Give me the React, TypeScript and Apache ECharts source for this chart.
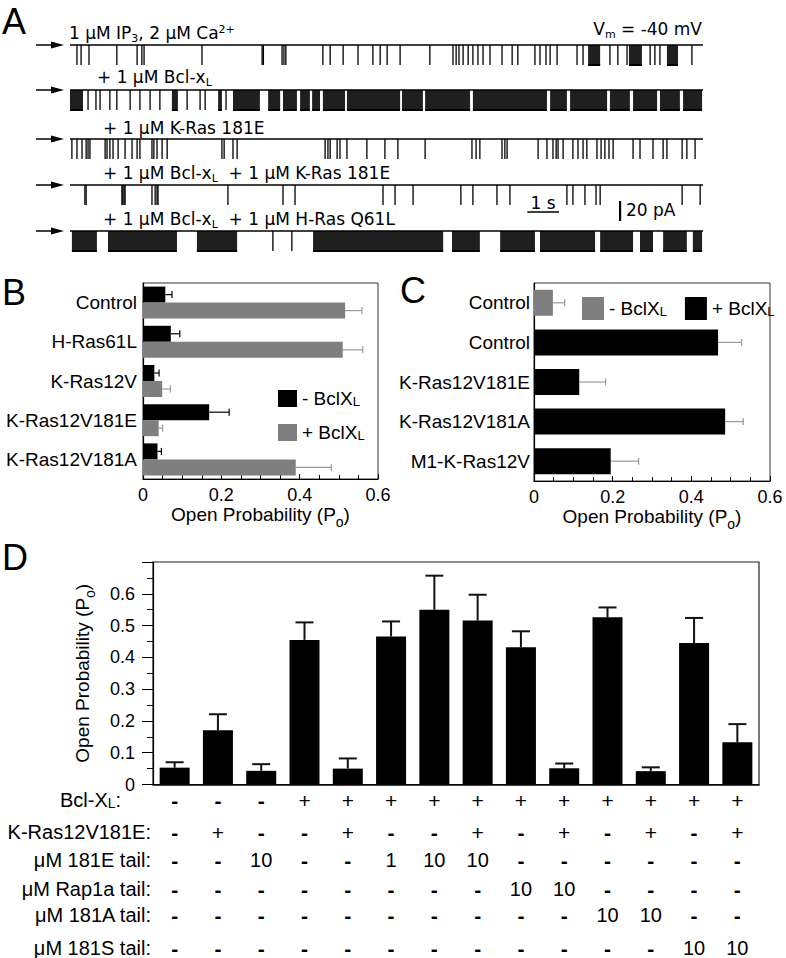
import React, { useEffect, useRef } from 'react';
import * as echarts from 'echarts';

// ---------------- Panel A: single-channel records (time in s) ----------------
// brief openings (s) and sustained bursts [start, end] (s), per record
const TRACE1_SPIKES = [0.22, 0.35, 0.6, 1.48, 2.12, 2.27, 2.34, 4.17, 6.07, 6.11, 6.7, 6.76, 6.82, 7.99, 8.22, 8.63, 9.1, 9.57, 9.8, 10.02, 10.43, 11.37, 12.1, 12.2, 12.29, 12.42, 12.58, 12.73, 12.89, 13.05, 13.27, 13.65, 13.97, 14.15, 14.69, 14.85, 15.04, 15.17, 15.39, 16.02, 16.21, 17.06, 17.31, 17.6, 18.33, 18.48, 18.64, 19.65];
const TRACE1_BURSTS = [[16.37, 16.75], [17.66, 18.07], [18.86, 19.21]];

const TRACE2_SPIKES = [0.57, 0.82, 0.95, 1.26, 1.48, 1.9, 2.21, 2.53, 2.84, 3.7, 4.11, 4.27, 4.93];
const TRACE2_BURSTS = [[0, 0.41], [3.22, 3.41], [4.68, 4.8], [5.15, 6.0], [6.26, 6.64], [6.73, 7.17], [7.27, 7.58], [7.65, 7.9], [7.99, 8.69], [8.75, 10.43], [10.49, 11.15], [11.22, 12.64], [12.73, 15.07], [15.17, 15.7], [15.8, 16.97], [17.06, 17.69], [17.79, 18.55], [18.64, 19.27], [19.37, 19.97]];

const TRACE3_SPIKES = [0.06, 0.22, 0.38, 0.51, 0.57, 0.63, 1.11, 1.17, 1.26, 1.36, 1.52, 1.74, 1.96, 2.12, 2.21, 2.59, 2.65, 2.75, 2.91, 3.07, 4.8, 4.87, 5.15, 5.28, 8.06, 8.15, 8.22, 8.44, 8.53, 8.75, 9.38, 9.95, 10.36, 11.22, 12.7, 12.83, 12.95, 13.65, 13.74, 13.81, 14.79, 15.07, 15.26, 15.36, 15.42, 15.58, 15.89, 16.05, 16.21, 16.33, 16.65, 16.78, 16.9, 17.03, 17.16, 17.79, 18.01, 18.42, 18.74, 18.86, 19.34, 19.49, 19.75];
const TRACE3_BURSTS: number[][] = [];

const TRACE4_SPIKES = [0.47, 0.51, 1.64, 1.67, 1.71, 1.74, 2.59, 2.69, 2.75, 2.78, 4.99, 6.73, 7.11, 9.89, 10.27, 10.84, 12.35, 12.73, 13.49, 13.9, 15.7, 15.89, 16.27, 16.62, 16.75, 19.34, 19.91];
const TRACE4_BURSTS: number[][] = [];

const TRACE5_SPIKES = [6.41, 7.01];
const TRACE5_BURSTS = [[0.06, 0.85], [1.2, 3.38], [4.01, 5.28], [7.68, 11.79], [12.07, 12.95], [13.59, 14.69], [14.85, 16.59], [16.75, 17.79], [18.01, 18.42], [18.74, 19.49], [19.68, 19.97]];

const TRACES = [
  { spikes: TRACE1_SPIKES, bursts: TRACE1_BURSTS },
  { spikes: TRACE2_SPIKES, bursts: TRACE2_BURSTS },
  { spikes: TRACE3_SPIKES, bursts: TRACE3_BURSTS },
  { spikes: TRACE4_SPIKES, bursts: TRACE4_BURSTS },
  { spikes: TRACE5_SPIKES, bursts: TRACE5_BURSTS },
];
const UNITARY_CURRENT = 20; // pA
const SCALE_TIME = 1; // s
const SCALE_CURRENT = 20; // pA

// ---------------- Panel B ----------------
const B_CATEGORIES = ['Control', 'H-Ras61L', 'K-Ras12V', 'K-Ras12V181E', 'K-Ras12V181A'];
const B_MINUS = [0.057, 0.071, 0.029, 0.169, 0.037];
const B_MINUS_ERR = [0.017, 0.023, 0.012, 0.051, 0.01];
const B_PLUS = [0.516, 0.51, 0.049, 0.04, 0.39];
const B_PLUS_ERR = [0.043, 0.051, 0.021, 0.01, 0.091];

// ---------------- Panel C ----------------
const C_CATEGORIES = ['Control', 'Control', 'K-Ras12V181E', 'K-Ras12V181A', 'M1-K-Ras12V'];
const C_BCL = ['-', '+', '+', '+', '+'];
const C_VALUES = [0.048, 0.468, 0.115, 0.486, 0.195];
const C_ERR = [0.03, 0.06, 0.067, 0.046, 0.071];

// ---------------- Panel D ----------------
const D_VALUES = [0.053, 0.171, 0.043, 0.455, 0.05, 0.466, 0.55, 0.516, 0.432, 0.051, 0.526, 0.042, 0.445, 0.133];
const D_ERR = [0.017, 0.05, 0.021, 0.055, 0.032, 0.047, 0.107, 0.081, 0.05, 0.015, 0.031, 0.012, 0.079, 0.057];
const D_ROW_LABELS = ['{a|Bcl-X}{s|L}{a|:}', 'K-Ras12V181E:', 'μM 181E tail:', 'μM Rap1a tail:', 'μM 181A tail:', 'μM 181S tail:'];
const D_BCL = ['-', '-', '-', '+', '+', '+', '+', '+', '+', '+', '+', '+', '+', '+'];
const D_KRAS = ['-', '+', '-', '-', '+', '-', '-', '+', '-', '+', '-', '+', '-', '+'];
const D_181E = ['-', '-', '10', '-', '-', '1', '10', '10', '-', '-', '-', '-', '-', '-'];
const D_RAP1A = ['-', '-', '-', '-', '-', '-', '-', '-', '10', '10', '-', '-', '-', '-'];
const D_181A = ['-', '-', '-', '-', '-', '-', '-', '-', '-', '-', '10', '10', '-', '-'];
const D_181S = ['-', '-', '-', '-', '-', '-', '-', '-', '-', '-', '-', '-', '10', '10'];
const D_ROWS = [D_BCL, D_KRAS, D_181E, D_RAP1A, D_181A, D_181S];

// ---------------- layout / style ----------------
const FONT = '"Liberation Sans", Arial, Helvetica, sans-serif';
const AFONT = '"DejaVu Sans", Verdana, sans-serif';
const GRAY = '#7f7f7f';
const TRACE_OFFSETS = [-25, -70, -119, -165, -211];
const ROW_OFFSETS = [15.5, 47.5, 75.5, 104.5, 130.5, 163.5];

const PO_NAME = '{a|Open Probability (P}{s|o}{a|)}';
const PO_RICH = {
  a: { fontSize: 19, fontFamily: FONT, color: '#000', lineHeight: 24, verticalAlign: 'top' },
  s: { fontSize: 14, fontFamily: FONT, color: '#000', lineHeight: 10, verticalAlign: 'bottom' },
};
const BCL_RICH = {
  a: { fontSize: 19, fontFamily: FONT, color: '#000', lineHeight: 20 },
  s: { fontSize: 13, fontFamily: FONT, color: '#000', lineHeight: 13, verticalAlign: 'bottom' },
};
const A_RICH = {
  n: { fontSize: 17, fontFamily: AFONT, fill: '#000', lineHeight: 20, verticalAlign: 'top' },
  sub: { fontSize: 11, fontFamily: AFONT, fill: '#000', lineHeight: 8, verticalAlign: 'bottom' },
  sup: { fontSize: 11, fontFamily: AFONT, fill: '#000', lineHeight: 8, verticalAlign: 'top' },
};

function traceRenderer(off: number) {
  return (params: any, api: any) => {
    const t0 = api.value(0);
    const t1 = api.value(1);
    const a = api.coord([t0, off]);
    const b = api.coord([t1, off - UNITARY_CURRENT]);
    if (t1 <= t0) {
      return {
        type: 'line',
        shape: { x1: a[0], y1: a[1], x2: a[0], y2: b[1] },
        style: { stroke: '#000', lineWidth: 1.3 },
      };
    }
    return {
      type: 'group',
      children: [
        { type: 'rect', shape: { x: a[0], y: a[1], width: b[0] - a[0], height: b[1] - a[1] }, style: { fill: 'rgba(0,0,0,0.88)' } },
        { type: 'line', shape: { x1: a[0], y1: b[1], x2: b[0], y2: b[1] }, style: { stroke: '#000', lineWidth: 2 } },
      ],
    };
  };
}

function hErrRenderer(dy: number, color: string, cap: number) {
  return (params: any, api: any) => {
    const cat = api.value(0);
    const v = api.value(1);
    const e = api.value(2);
    if (isNaN(v)) return null;
    const a = api.coord([v, cat]);
    const b = api.coord([v + e, cat]);
    const y = a[1] + dy;
    return {
      type: 'group',
      children: [
        { type: 'line', shape: { x1: a[0], y1: y, x2: b[0], y2: y }, style: { stroke: color, lineWidth: 1.2 } },
        { type: 'line', shape: { x1: b[0], y1: y - cap, x2: b[0], y2: y + cap }, style: { stroke: color, lineWidth: 1.2 } },
      ],
    };
  };
}

function vErrRenderer(params: any, api: any) {
  const i = api.value(0);
  const v = api.value(1);
  const e = api.value(2);
  const a = api.coord([i, v]);
  const b = api.coord([i, v + e]);
  return {
    type: 'group',
    children: [
      { type: 'line', shape: { x1: a[0], y1: a[1], x2: b[0], y2: b[1] }, style: { stroke: '#111', lineWidth: 2 } },
      { type: 'line', shape: { x1: b[0] - 9, y1: b[1], x2: b[0] + 9, y2: b[1] }, style: { stroke: '#111', lineWidth: 2 } },
    ],
  };
}

const bcLabelFmt = (v: number) => (v === 0 ? '0' : v.toFixed(1));

function valueAxisBC(gi: number) {
  return {
    gridIndex: gi,
    type: 'value',
    min: 0,
    max: 0.6,
    interval: 0.2,
    splitLine: { show: false },
    axisLine: { show: true, lineStyle: { color: '#000', width: 1.2 } },
    axisTick: { show: true, inside: true, length: 5, lineStyle: { color: '#000' } },
    minorTick: { show: true, splitNumber: 4, length: 4, lineStyle: { color: '#000' } },
    axisLabel: { fontSize: 18, color: '#000', fontFamily: FONT, margin: 7, formatter: bcLabelFmt },
    name: PO_NAME,
    nameLocation: 'middle',
    nameGap: 20,
    nameTextStyle: { rich: PO_RICH },
  };
}

function catAxisBC(gi: number, data: string[], margin: number) {
  return {
    gridIndex: gi,
    type: 'category',
    data,
    inverse: true,
    axisTick: { show: false },
    axisLine: { show: true, lineStyle: { color: '#000', width: 1.2 } },
    axisLabel: { fontSize: 19, color: '#000', fontFamily: FONT, margin, interval: 0 },
  };
}

function aText(x: number, y: number, text: string, align = 'left') {
  return {
    type: 'text',
    x,
    y,
    style: { text, rich: A_RICH, fill: '#000', font: `17px ${AFONT}`, align, verticalAlign: 'middle', textAlign: align, textVerticalAlign: 'middle' },
  };
}

function letter(x: number, y: number, t: string) {
  return {
    type: 'text',
    x,
    y,
    style: { text: t, fill: '#000', fontSize: 36, fontFamily: FONT, verticalAlign: 'middle', textVerticalAlign: 'middle' },
  };
}

function buildOption() {
  const series: any[] = [];
  TRACES.forEach((tr, i) => {
    const off = TRACE_OFFSETS[i];
    series.push({
      type: 'line',
      xAxisIndex: 0,
      yAxisIndex: 0,
      data: [[0, off], [20, off]],
      symbol: 'none',
      silent: true,
      lineStyle: { color: '#000', width: 1.6 },
    });
    const events = tr.spikes.map((t) => [t, t]).concat(tr.bursts);
    series.push({
      type: 'custom',
      xAxisIndex: 0,
      yAxisIndex: 0,
      silent: true,
      data: events,
      renderItem: traceRenderer(off),
    });
  });
  // scale bars
  series.push({
    type: 'line', xAxisIndex: 0, yAxisIndex: 0, symbol: 'none', silent: true,
    data: [[14.45, -192], [14.45 + SCALE_TIME, -192]],
    lineStyle: { color: '#000', width: 1.5 },
  });
  series.push({
    type: 'line', xAxisIndex: 0, yAxisIndex: 0, symbol: 'none', silent: true,
    data: [[17.38, -181], [17.38, -181 - SCALE_CURRENT]],
    lineStyle: { color: '#000', width: 2.2 },
  });

  // B
  series.push({ name: '- BclXL', type: 'bar', xAxisIndex: 1, yAxisIndex: 1, data: B_MINUS, barWidth: 16, barGap: '0%', itemStyle: { color: '#000' } });
  series.push({ name: '+ BclXL', type: 'bar', xAxisIndex: 1, yAxisIndex: 1, data: B_PLUS, barWidth: 16, barGap: '0%', itemStyle: { color: GRAY } });
  series.push({ type: 'custom', xAxisIndex: 1, yAxisIndex: 1, silent: true, encode: { x: 1, y: 0 }, data: B_MINUS.map((v, i) => [i, v, B_MINUS_ERR[i]]), renderItem: hErrRenderer(-8, '#000', 3.5) });
  series.push({ type: 'custom', xAxisIndex: 1, yAxisIndex: 1, silent: true, encode: { x: 1, y: 0 }, data: B_PLUS.map((v, i) => [i, v, B_PLUS_ERR[i]]), renderItem: hErrRenderer(8, '#999', 3.5) });

  // C
  series.push({ name: '- BclXL', type: 'bar', xAxisIndex: 2, yAxisIndex: 2, data: C_VALUES.map((v, i) => (C_BCL[i] === '-' ? v : '-')), barWidth: 26, barGap: '-100%', itemStyle: { color: GRAY } });
  series.push({ name: '+ BclXL', type: 'bar', xAxisIndex: 2, yAxisIndex: 2, data: C_VALUES.map((v, i) => (C_BCL[i] === '+' ? v : '-')), barWidth: 26, barGap: '-100%', itemStyle: { color: '#000' } });
  series.push({ type: 'custom', xAxisIndex: 2, yAxisIndex: 2, silent: true, encode: { x: 1, y: 0 }, data: C_VALUES.map((v, i) => [i, v, C_ERR[i]]), renderItem: hErrRenderer(0, '#999', 3.5) });

  // D
  series.push({ name: 'D', type: 'bar', xAxisIndex: 3, yAxisIndex: 3, data: D_VALUES, barWidth: 30, itemStyle: { color: '#000' } });
  series.push({ type: 'custom', xAxisIndex: 3, yAxisIndex: 3, silent: true, encode: { x: 0, y: 1 }, data: D_VALUES.map((v, i) => [i, v, D_ERR[i]]), renderItem: vErrRenderer });

  const rowAxes = D_ROWS.map((row, r) => ({
    gridIndex: 3,
    type: 'category',
    position: 'bottom',
    offset: ROW_OFFSETS[r],
    data: row,
    axisLine: { show: false },
    axisTick: { show: false },
    axisLabel: {
      show: true,
      interval: 0,
      margin: 0,
      verticalAlign: 'middle',
      fontSize: 20,
      color: '#000',
      fontFamily: FONT,
      formatter: (v: string) => (v === '-' ? '{d|-}' : v === '+' ? '{p|+}' : v),
      rich: {
        d: { fontSize: 21, fontWeight: 'bold', fontFamily: FONT, color: '#000' },
        p: { fontSize: 21, fontFamily: FONT, color: '#000' },
      },
    },
    name: D_ROW_LABELS[r],
    nameLocation: 'start',
    nameGap: 2,
    nameTextStyle: {
      fontSize: 20,
      color: '#000',
      fontFamily: FONT,
      align: 'right',
      verticalAlign: 'middle',
      rich: {
        a: { fontSize: 20, fontFamily: FONT, color: '#000', lineHeight: 20 },
        s: { fontSize: 14, fontFamily: FONT, color: '#000', lineHeight: 14, verticalAlign: 'bottom' },
      },
    },
  }));

  const bclFmt = (name: string) => name.replace('BclXL', 'BclX{s|L}');

  const arrows: any[] = [];
  TRACE_OFFSETS.forEach((off) => {
    const y = 20 - off;
    arrows.push({ type: 'line', shape: { x1: 36, y1: y, x2: 56, y2: y }, style: { stroke: '#000', lineWidth: 1.5 } });
    arrows.push({ type: 'polygon', shape: { points: [[51, y - 3.5], [64, y], [51, y + 3.5]] }, style: { fill: '#000' } });
  });

  return {
    animation: false,
    backgroundColor: '#fff',
    textStyle: { fontFamily: FONT, color: '#000' },
    grid: [
      { left: 70, top: 20, width: 633, height: 245, show: false, outerBoundsMode: 'none' },
      { left: 143, top: 283, width: 235, height: 196, show: true, borderColor: '#333', borderWidth: 1, outerBoundsMode: 'none' },
      { left: 534, top: 283, width: 236, height: 198, show: true, borderColor: '#333', borderWidth: 1, outerBoundsMode: 'none' },
      { left: 153, top: 562, width: 606, height: 222.5, show: true, borderColor: '#222', borderWidth: 1.2, outerBoundsMode: 'none' },
    ],
    xAxis: [
      { gridIndex: 0, type: 'value', min: 0, max: 20, show: false },
      valueAxisBC(1),
      valueAxisBC(2),
      {
        gridIndex: 3,
        type: 'category',
        data: D_VALUES.map((_, i) => String(i + 1)),
        axisTick: { show: false },
        axisLabel: { show: false },
        axisLine: { show: true, lineStyle: { color: '#000', width: 1.5 } },
      },
      ...rowAxes,
    ],
    yAxis: [
      { gridIndex: 0, type: 'value', min: -245, max: 0, show: false },
      catAxisBC(1, B_CATEGORIES, 6),
      catAxisBC(2, C_CATEGORIES, 4),
      {
        gridIndex: 3,
        type: 'value',
        min: 0,
        max: 0.7,
        interval: 0.1,
        splitLine: { show: false },
        axisLine: { show: true, lineStyle: { color: '#000', width: 1.2 } },
        axisTick: { show: true, inside: false, length: 11, lineStyle: { color: '#000' } },
        minorTick: { show: true, splitNumber: 2, length: 6, lineStyle: { color: '#000' } },
        axisLabel: { fontSize: 18, color: '#000', fontFamily: FONT, margin: 18, formatter: (v: number) => (v > 0.65 ? '' : v === 0 ? '0' : v.toFixed(1)) },
        name: PO_NAME,
        nameLocation: 'middle',
        nameGap: 56,
        nameTextStyle: { rich: PO_RICH },
      },
    ],
    legend: [
      {
        orient: 'vertical',
        left: 273,
        top: 384,
        itemWidth: 19,
        itemHeight: 17,
        itemGap: 15,
        icon: 'rect',
        selectedMode: false,
        data: [
          { name: '- BclXL', itemStyle: { color: '#000' } },
          { name: '+ BclXL', itemStyle: { color: GRAY } },
        ],
        formatter: bclFmt,
        textStyle: { fontSize: 19, color: '#000', fontFamily: FONT, rich: BCL_RICH },
      },
      {
        orient: 'horizontal',
        left: 577,
        top: 292,
        itemWidth: 22,
        itemHeight: 23,
        itemGap: 18,
        icon: 'rect',
        selectedMode: false,
        data: [
          { name: '- BclXL', itemStyle: { color: GRAY } },
          { name: '+ BclXL', itemStyle: { color: '#000' } },
        ],
        formatter: bclFmt,
        textStyle: { fontSize: 19, color: '#000', fontFamily: FONT, rich: BCL_RICH },
      },
    ],
    graphic: [
      letter(2, 21, 'A'),
      letter(2, 292, 'B'),
      letter(400, 290, 'C'),
      letter(2, 557, 'D'),
      ...arrows,
      aText(69, 34, '{n|1 μM IP}{sub|3}{n|, 2 μM Ca}{sup|2+}'),
      aText(702, 30, '{n|V}{sub|m}{n| = -40 mV}', 'right'),
      aText(97, 78, '{n|+ 1 μM Bcl-x}{sub|L}'),
      aText(103, 129, '{n|+ 1 μM K-Ras 181E}'),
      aText(103, 174, '{n|+ 1 μM Bcl-x}{sub|L}{n|  + 1 μM K-Ras 181E}'),
      aText(103, 220, '{n|+ 1 μM Bcl-x}{sub|L}{n|  + 1 μM H-Ras Q61L}'),
      aText(543, 204, '{n|1 s}', 'center'),
      aText(626, 211, '{n|20 pA}'),
    ],
    series,
  };
}

export default function App() {
  const ref = useRef<HTMLDivElement>(null);
  useEffect(() => {
    if (!ref.current) return;
    const chart = echarts.init(ref.current, null, { renderer: 'svg' });
    chart.setOption(buildOption() as any);
    return () => chart.dispose();
  }, []);
  return <div ref={ref} style={{ position: 'fixed', left: 0, top: 0, width: 786, height: 958, background: '#fff' }} />;
}
